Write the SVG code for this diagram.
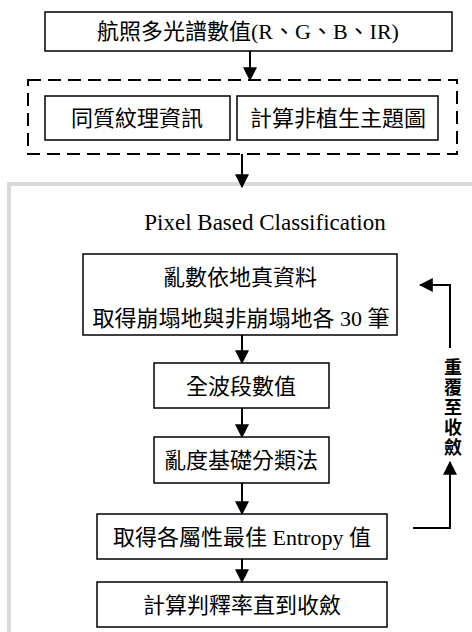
<svg xmlns="http://www.w3.org/2000/svg" width="472" height="632" viewBox="0 0 472 632">
<style>
.box{fill:#fff;stroke:#000;stroke-width:1.5}
.t{font-family:"Liberation Serif","Noto Sans CJK TC",serif;font-size:22px;fill:#000;text-anchor:middle;dominant-baseline:central}
.c{stroke:#000;stroke-width:2;fill:none}
</style>
<defs>
<marker id="ah" markerUnits="userSpaceOnUse" markerWidth="14" markerHeight="14" viewBox="0 0 12 12" refX="11" refY="6" orient="auto">
<path d="M0,0 L12,6 L0,12 Z" fill="#000"/>
</marker>
</defs>
<rect width="472" height="632" fill="#fff"/>
<g id="panel">
<rect x="9" y="184" width="480" height="470" fill="#fff" stroke="#d9d9d9" stroke-width="4"/>
<text class="t" x="265" y="222" style="font-size:23px">Pixel Based Classification</text>
</g>
<g id="input">
<rect class="box" x="45" y="12" width="407" height="39"/>
<text class="t" x="248" y="31">航照多光譜數值(R、G、B、IR)</text>
</g>
<g id="group">
<rect x="28" y="80" width="429" height="74" fill="none" stroke="#000" stroke-width="2" stroke-dasharray="13,7"/>
</g>
<g id="texture">
<rect class="box" x="45" y="96" width="185" height="44"/>
<text class="t" x="137" y="118">同質紋理資訊</text>
</g>
<g id="nonveg">
<rect class="box" x="237" y="96" width="201" height="44"/>
<text class="t" x="338" y="118">計算非植生主題圖</text>
</g>
<g id="sample">
<rect class="box" x="83" y="254" width="314" height="81"/>
<text class="t" x="240" y="277">亂數依地真資料</text>
<text class="t" x="241" y="318">取得崩塌地與非崩塌地各 30 筆</text>
</g>
<g id="bands">
<rect class="box" x="154" y="363" width="175" height="45"/>
<text class="t" x="241" y="386">全波段數值</text>
</g>
<g id="entropyclass">
<rect class="box" x="154" y="437" width="175" height="46"/>
<text class="t" x="241" y="460">亂度基礎分類法</text>
</g>
<g id="entropy">
<rect class="box" x="97" y="514" width="290" height="45"/>
<text class="t" x="242" y="537">取得各屬性最佳 Entropy 值</text>
</g>
<g id="accuracy">
<rect class="box" x="97" y="582" width="290" height="45"/>
<text class="t" x="242" y="605">計算判釋率直到收斂</text>
</g>
<g id="connectors">
<line class="c" x1="250" y1="51" x2="250" y2="80" marker-end="url(#ah)"/>
<line class="c" x1="242" y1="154" x2="242" y2="187" marker-end="url(#ah)"/>
<line class="c" x1="242" y1="335" x2="242" y2="363" marker-end="url(#ah)"/>
<line class="c" x1="242" y1="408" x2="242" y2="437" marker-end="url(#ah)"/>
<line class="c" x1="242" y1="483" x2="242" y2="514" marker-end="url(#ah)"/>
<line class="c" x1="242" y1="559" x2="242" y2="582" marker-end="url(#ah)"/>
<polyline class="c" points="413,528 450,528 450,462" marker-end="url(#ah)"/>
<polyline class="c" points="450,348 450,285 420,285" marker-end="url(#ah)"/>
<text x="453" y="408" font-family="'Noto Sans CJK TC',sans-serif" font-size="18" font-weight="700" text-anchor="middle" writing-mode="vertical-rl" letter-spacing="2">重覆至收斂</text>
</g>
</svg>
